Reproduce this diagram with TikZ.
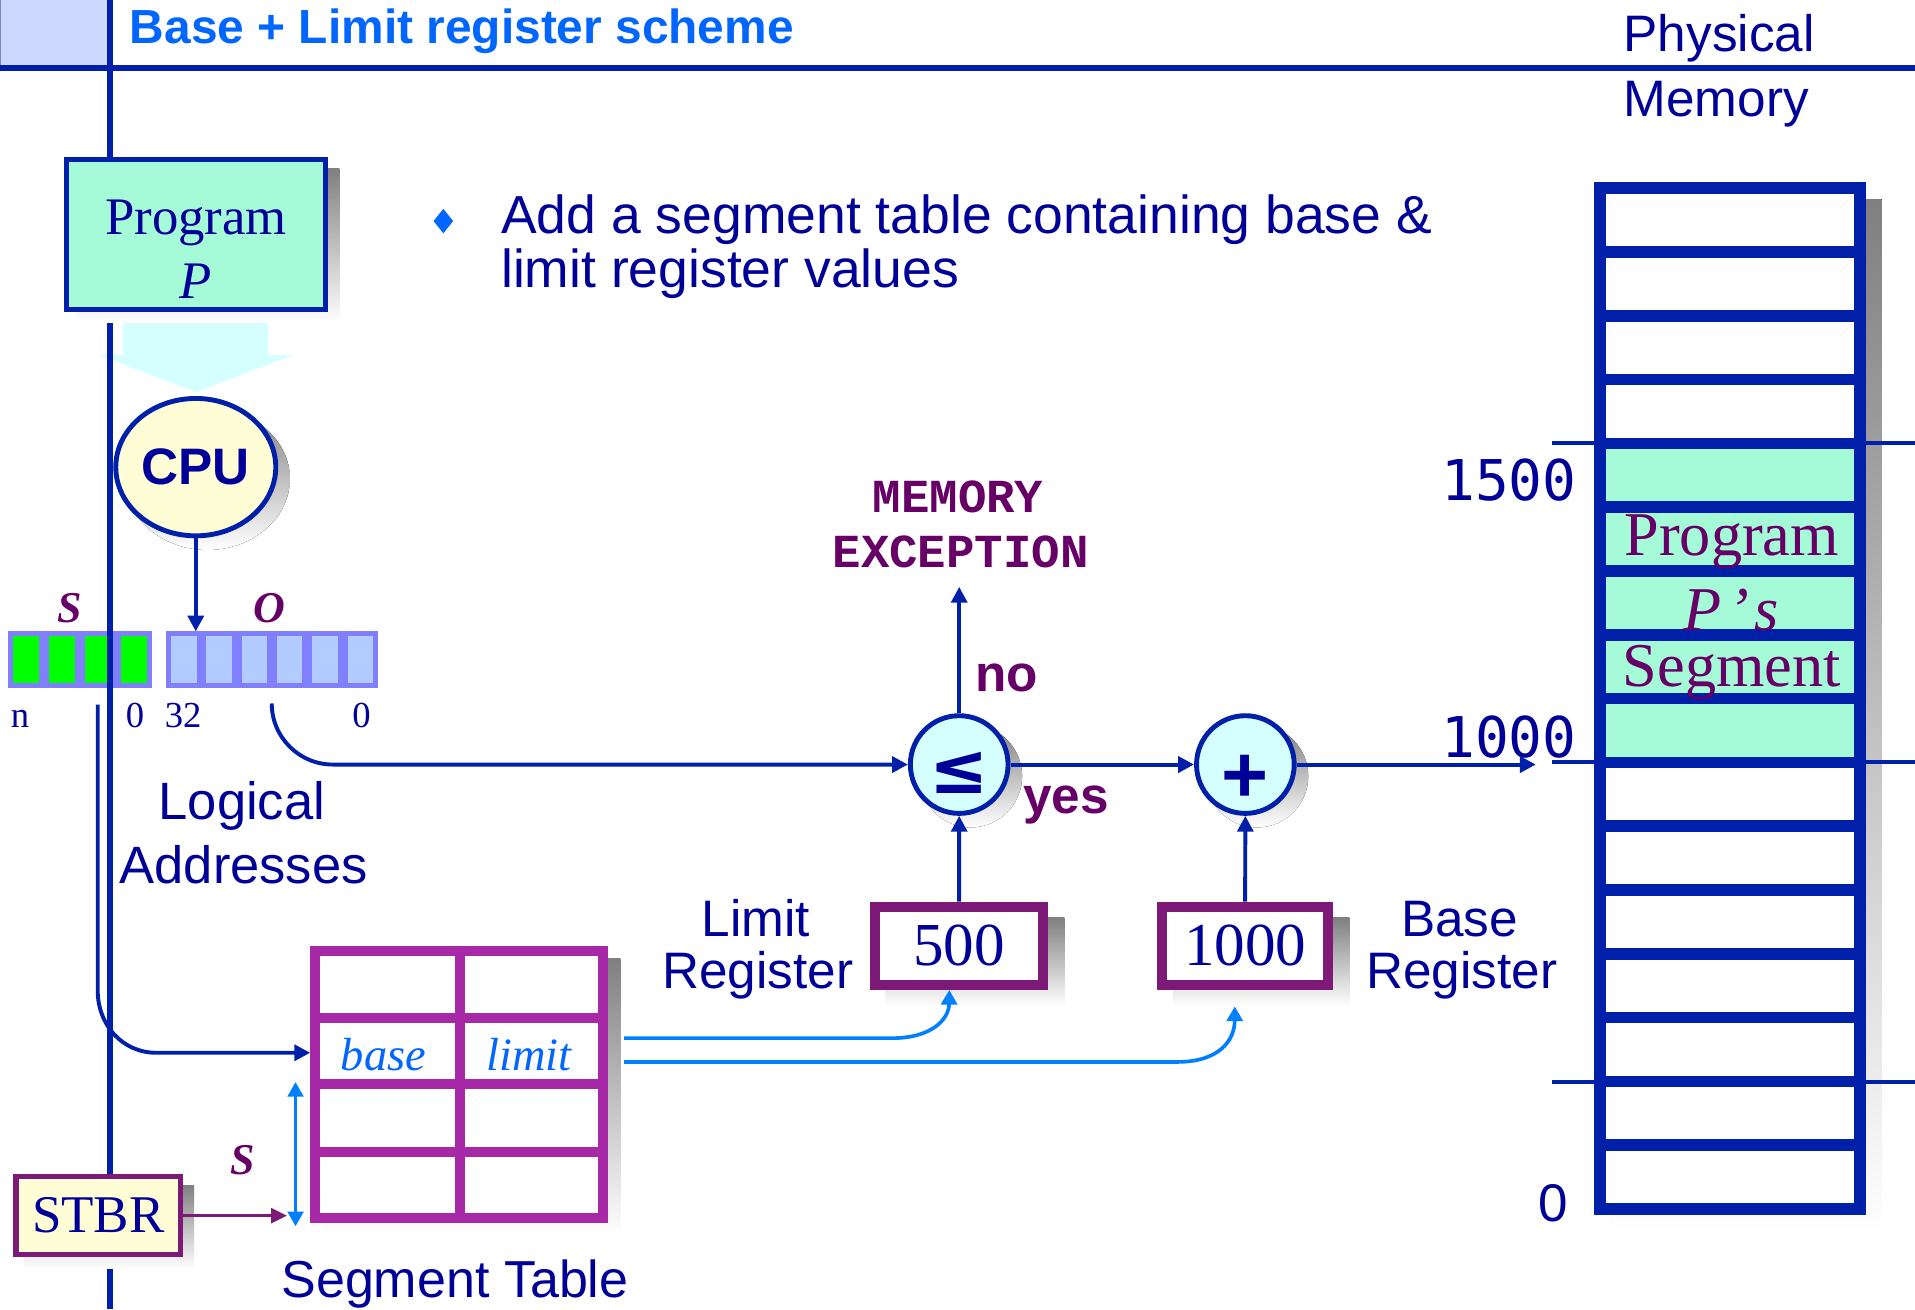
\documentclass[tikz,border=0pt]{standalone}
\usepackage{fontspec}
\setmainfont{Liberation Serif}
\newfontfamily\arialfont{Liberation Sans}
\newfontfamily\courierfont{Liberation Mono}
\newfontfamily\dvmonofont{DejaVu Sans Mono}
\newfontfamily\dvsansfont{DejaVu Sans}
\usetikzlibrary{arrows.meta,shapes.geometric}
\pgfdeclarelayer{backdrop}
\pgfdeclarelayer{shadelayer}
\pgfsetlayers{backdrop,shadelayer,main}

\definecolor{rule}{RGB}{0,32,170}
\definecolor{navy}{RGB}{0,0,153}
\definecolor{plum}{RGB}{102,0,102}
\definecolor{regpurple}{RGB}{125,26,120}
\definecolor{tabpurple}{RGB}{168,41,168}
\definecolor{sky}{RGB}{0,128,255}
\definecolor{titleblue}{RGB}{0,102,255}
\definecolor{shade}{RGB}{192,192,192}
\definecolor{aqua}{RGB}{165,250,215}
\definecolor{paleyellow}{RGB}{255,253,213}
\definecolor{palecyan}{RGB}{213,255,255}
\definecolor{headerfill}{RGB}{204,216,255}
\definecolor{bitframe}{RGB}{128,128,255}
\definecolor{bitgreen}{RGB}{0,255,0}
\definecolor{bitblue}{RGB}{178,204,255}

\newcommand\fsz[1]{\fontsize{#1}{#1}\selectfont}
\newcommand\boxshadow[3]{\fill[shade] ([shift={(#2,#3)}]#1.south west) rectangle ([shift={(#2,#3)}]#1.north east);}

\begin{document}
\begin{tikzpicture}[x=0.5pt,y=-0.5pt,
  txt/.style={inner sep=0pt, anchor=base},
  txtw/.style={inner sep=0pt, anchor=base west},
  arr/.style={draw=rule, line width=1.6pt, -{Triangle[length=6.5pt,width=6.5pt]}},
  skyarr/.style={draw=sky, line width=1.5pt, -{Triangle[length=6pt,width=6.5pt]}},
  bit/.style={rectangle, draw=bitframe, line width=2pt, minimum height=21pt, inner sep=0pt},
  progbox/.style={rectangle, draw=rule, line width=2pt, fill=aqua, minimum width=105.8pt, minimum height=61.2pt, inner sep=0pt},
  cpubox/.style={ellipse, draw=rule, line width=2pt, fill=paleyellow, minimum width=65.5pt, minimum height=56.25pt, inner sep=0pt},
  opcircle/.style={circle, draw=rule, line width=2pt, fill=palecyan, minimum size=40pt, inner sep=0pt},
  regbox/.style={rectangle, draw=regpurple, line width=4.25pt, fill=white, minimum height=31.9pt, inner sep=0pt},
  stbrbox/.style={rectangle, draw=regpurple, line width=2.2pt, fill=paleyellow, minimum width=67.25pt, minimum height=31.9pt, inner sep=0pt},
  tabbox/.style={rectangle, draw=tabpurple, line width=4pt, fill=white, minimum width=118pt, minimum height=109.5pt, inner sep=0pt},
  tabline/.style={draw=tabpurple, line width=4pt},
  memcol/.style={rectangle, draw=rule, line width=4.75pt, minimum width=106.5pt, minimum height=418pt, inner sep=0pt},
  memline/.style={draw=rule, line width=4.75pt},
  tick/.style={draw=rule, line width=1.5pt}
]
\useasboundingbox (0,0) rectangle (1568,1072);

% ---------- page furniture, wide arrow and address bits ----------
\begin{pgfonlayer}{backdrop}
  \fill[white] (0,0) rectangle (1568,1072);
  \fill[headerfill] (0,0) rectangle (90,55);
  \draw[rule!55, line width=0.8pt] (0.4,0) -- (0.4,55);
  % wide pale arrow from the program to the CPU
  \fill[palecyan] (100.7,254) -- (219.4,254) -- (219.4,290.7) -- (240,290.7)
     -- (160.5,321) -- (81,290.7) -- (100.7,290.7) -- cycle;
  % segment bits and offset bits
  \foreach \i in {0,...,3}
    \node[bit, fill=bitgreen, minimum width=12.75pt] (s\i) at ({21.25+29.5*\i},540) {};
  \foreach \i in {0,...,5}
    \node[bit, fill=bitblue, minimum width=12.46pt] (o\i) at ({150.46+28.92*\i},540) {};
  % slide rules
  \draw[rule, line width=2.5pt] (0,55.5) -- (1568,55.5);
  \draw[rule, line width=2.2pt] (90,0) -- (90,1072);
\end{pgfonlayer}

% ---------- title and bullet ----------
\node[txtw, font=\arialfont\bfseries\fsz{19.6}, text=titleblue] (title) at (106,35.5) {Base + Limit register scheme};
\fill[titleblue] (363,171) -- (371,181) -- (363,191) -- (355,181) -- cycle;
\node[txtw, font=\arialfont\fsz{21.9}, text=navy] (bul1) at (410,191) {Add a segment table containing base \&};
\node[txtw, font=\arialfont\fsz{21.9}, text=navy] (bul2) at (410,235) {limit register values};
\node[txtw, font=\arialfont\fsz{21}, text=navy] (phys1) at (1329,42) {Physical};
\node[txtw, font=\arialfont\fsz{21}, text=navy] (phys2) at (1329,95.5) {Memory};

% ---------- program and CPU ----------
\node[progbox] (prog) at (160.5,192) {};
\node[txt, font=\fsz{21.6}, text=navy] (progname) at (160.5,192.4) {Program};
\node[txt, font=\itshape\fsz{21.6}, text=navy] (progp) at (160.5,244.3) {P};
\node[cpubox, font=\arialfont\bfseries\fsz{21}, text=navy] (cpu) at (160.3,382.5) {CPU};

% ---------- logical address labels ----------
\node[txt, font=\bfseries\itshape\fsz{18}, text=plum] (slab) at (57,510) {S};
\node[txt, font=\bfseries\itshape\fsz{18}, text=plum] (olab) at (220.5,510) {O};
\node[txt, font=\fsz{15}, text=navy] (bn) at (16.5,596) {n};
\node[txt, font=\fsz{15}, text=navy] (bz1) at (110.5,596) {0};
\node[txt, font=\fsz{15}, text=navy] (b32) at (150,596) {32};
\node[txt, font=\fsz{15}, text=navy] (bz2) at (296,596) {0};
\node[txt, font=\arialfont\fsz{21.5}, text=navy] (logi) at (198,671) {Logical};
\node[txt, font=\arialfont\fsz{21.5}, text=navy] (addr) at (199.5,723) {Addresses};

% ---------- comparator and adder ----------
\node[opcircle] (le) at (785.4,626) {};
\node[font=\dvsansfont\bfseries\fsz{29}, text=navy, inner sep=0pt] (lesym) at (785,633) {≤};
\node[opcircle] (plus) at (1019.7,626) {};
\node[txt, font=\arialfont\bfseries\fsz{33}, text=navy] (plussym) at (1019.7,657) {+};
\node[txt, font=\courierfont\bfseries\fsz{19.4}, text=plum] (exc1) at (784.5,420) {MEMORY};
\node[txt, font=\courierfont\bfseries\fsz{19.4}, text=plum] (exc2) at (786.5,465) {EXCEPTION};
\node[txtw, font=\arialfont\bfseries\fsz{21}, text=plum] (nolab) at (798,566.5) {no};
\node[txtw, font=\arialfont\bfseries\fsz{21}, text=plum] (yeslab) at (837.5,666) {yes};

% ---------- registers ----------
\node[regbox, minimum width=68.9pt, font=\fsz{25}, text=navy] (limreg) at (785.3,774.4) {500};
\node[regbox, minimum width=68pt, font=\fsz{25}, text=navy] (basereg) at (1019.5,774.4) {1000};
\node[txt, font=\arialfont\fsz{21}, text=navy] (liml1) at (619,767) {Limit};
\node[txt, font=\arialfont\fsz{21}, text=navy] (liml2) at (620.5,809) {Register};
\node[txt, font=\arialfont\fsz{21}, text=navy] (basel1) at (1195,767) {Base};
\node[txt, font=\arialfont\fsz{21}, text=navy] (basel2) at (1197,809) {Register};

% ---------- segment table and STBR ----------
\node[tabbox] (segtab) at (376,888) {};
\draw[tabline] (258,833.8) -- (494,833.8);
\draw[tabline] (258,887.8) -- (494,887.8);
\draw[tabline] (258,943) -- (494,943);
\draw[tabline] (segtab.north -| 376.5,0) -- (segtab.south -| 376.5,0);
\node[txt, font=\itshape\fsz{19}, text=titleblue] (basecell) at (314,876.7) {base};
\node[txt, font=\itshape\fsz{19}, text=titleblue] (limcell) at (433,876.7) {limit};
\node[txt, font=\arialfont\fsz{21.3}, text=navy] (segname) at (372.5,1062) {Segment Table};
\node[stbrbox, font=\fsz{21.7}, text=navy] (stbr) at (80.5,995.4) {STBR};
\node[txt, font=\bfseries\itshape\fsz{18}, text=plum] (slab2) at (199,962) {S};

% ---------- physical memory ----------
\fill[white] (1310,154) rectangle (1523,990);
\fill[aqua] (1310,362.5) rectangle (1523,624);
\foreach \k in {1,...,15}
  \draw[memline] (1310,{154+52.25*\k}) -- (1523,{154+52.25*\k});
\node[memcol] (mem) at (1416.5,572) {};
\node[txt, font=\fsz{25.5}, text=plum] (segt1) at (1418,455) {Program};
\node[txt, font=\fsz{25.5}, text=plum] (segt2) at (1417.5,516) {\itshape P\hspace{3pt}’\hspace{2pt}s};
\node[txt, font=\fsz{25.5}, text=plum] (segt3) at (1418,562.5) {Segment};
\node[txt, font=\dvmonofont\fsz{23}, text=navy] (a1500) at (1235.5,409.5) {1500};
\node[txt, font=\dvmonofont\fsz{23}, text=navy] (a1000) at (1235.5,620) {1000};
\node[txt, font=\arialfont\fsz{21.7}, text=navy] (a0) at (1272,1000) {0};

% ---------- drop shadows ----------
\begin{pgfonlayer}{shadelayer}
  \boxshadow{prog}{9.5}{9}
  \fill[shade] ([shift={(9.6,9.6)}]cpu.center) ellipse [x radius=33.75pt, y radius=29.1pt];
  \fill[shade] ([shift={(9.5,9.5)}]le.center) circle [radius=21pt];
  \fill[shade] ([shift={(9.5,9.5)}]plus.center) circle [radius=21pt];
  \boxshadow{limreg}{13}{13}
  \boxshadow{basereg}{13}{13}
  \boxshadow{stbr}{9}{9}
  \boxshadow{segtab}{10}{10}
  \boxshadow{mem}{13}{14}
  % address marks beside the memory column
  \draw[tick] (1271,362.5) -- (1568,362.5);
  \draw[tick] (1271,624) -- (1568,624);
  \draw[tick] (1271,886) -- (1568,886);
\end{pgfonlayer}

% ---------- connectors ----------
\coordinate (ostart) at (222.5,576);
\coordinate (sdrop) at (80,577);
\coordinate (rowtwo) at (376.5,862);
\coordinate (exctip) at (787,480.5);
\coordinate (memin) at (1257.5,626);
\coordinate (tabout1) at (511,850);
\coordinate (tabout2) at (511,869.5);
\coordinate (dtop) at (242,886);
\coordinate (dbot) at (242,1004);
\coordinate (stbrtip) at (235,995.4);

\draw[arr] (cpu.south) -- (cpu.south |- o0.north);
\draw[arr] (ostart) .. controls (222.5,603.6) and (244.9,626) .. (272.5,626) -- (le.west);
\draw[arr] (sdrop) -- (80,811) .. controls (80,839) and (100,862) .. (128,862) -- (segtab.west |- rowtwo);
\draw[arr] (le.north) -- (le.north |- exctip);
\draw[arr] (le.east) -- (plus.west);
\draw[arr] (limreg.north) -- (le.south);
\draw[arr] (basereg.north) -- (plus.south);
\draw[arr] (plus.east) -- (memin);
\draw[skyarr] (tabout1) -- (731,850) .. controls (762,850) and (777,835) .. ([xshift=-4pt]limreg.south);
\draw[skyarr] (tabout2) -- (964,869.5) .. controls (998,869.5) and (1011,852) .. ([shift={(-8.5,13.5)}]basereg.south);
\draw[draw=sky, line width=1.1pt, {Triangle[length=6pt,width=6.5pt]}-{Triangle[length=6pt,width=6.5pt]}] (dtop) -- (dbot);
\draw[draw=regpurple, line width=1.3pt, -{Triangle[length=6.5pt,width=6pt]}] (stbr.east) -- (stbrtip);
\end{tikzpicture}
\end{document}
